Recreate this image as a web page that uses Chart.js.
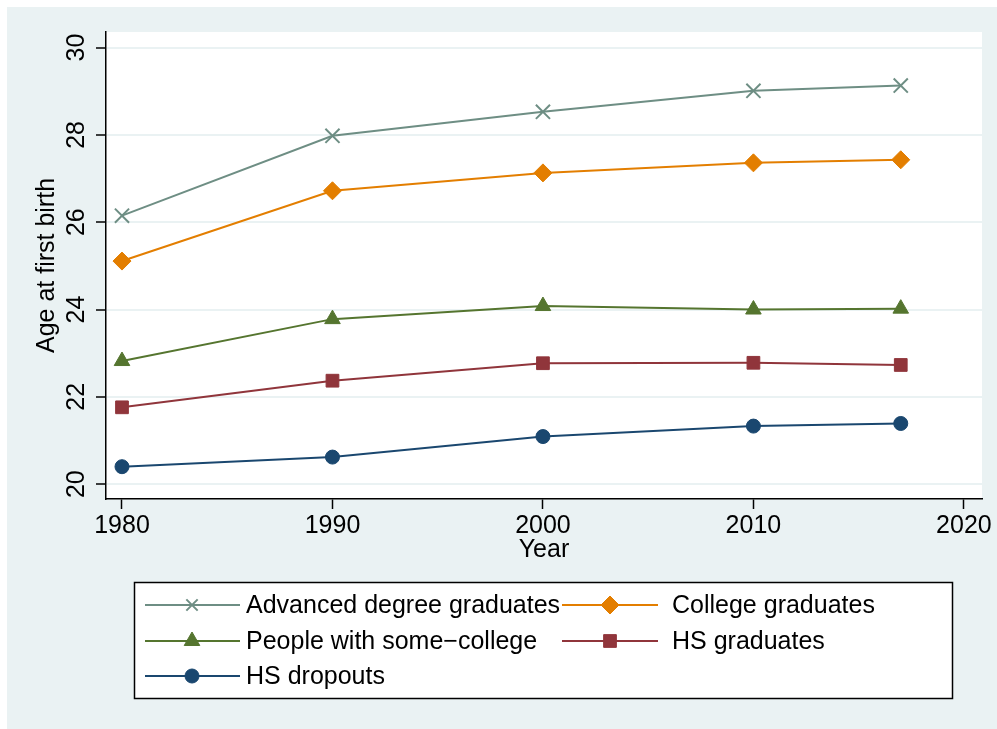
<!DOCTYPE html>
<html>
<head>
<meta charset="utf-8">
<title>Age at first birth by education</title>
<script src="https://cdn.jsdelivr.net/npm/chart.js@4/dist/chart.umd.min.js"></script>
<style>
    html, body { margin: 0; padding: 0; background: #ffffff; }
    #wrap { width: 997px; height: 729px; }
</style>
</head>
<body>
<div id="wrap"><canvas id="ageChart" width="997" height="729"></canvas></div>
<script>
// Census years and mean age at first birth per education group
const years = [1980, 1990, 2000, 2010, 2017];
const advancedDegree = [26.15, 27.98, 28.53, 29.01, 29.13];
const collegeGrads   = [25.11, 26.72, 27.13, 27.36, 27.43];
const someCollege    = [22.82, 23.78, 24.08, 24.00, 24.02];
const hsGrads        = [21.76, 22.37, 22.77, 22.78, 22.73];
const hsDropouts     = [20.40, 20.62, 21.09, 21.33, 21.39];

const seriesNames = [
    'Advanced degree graduates',
    'College graduates',
    'People with some\u2212college',
    'HS graduates',
    'HS dropouts'
];

const xTicks = [1980, 1990, 2000, 2010, 2020];
const yTicks = [20, 22, 24, 26, 28, 30];

// Stata s2color palette
const seriesColors = ['#6E8E84', '#E37E00', '#55752F', '#90353B', '#1A476F'];
const seriesMarkers = ['crossRot', 'rectRot', 'triangle', 'rect', 'circle'];
const markerSizes = [10, 9, 9, 9, 7];

const FONT = '"Liberation Sans", Arial, Helvetica, sans-serif';
const FONT_SIZE = 25;
const PANEL = '#EAF2F3';

Chart.defaults.font.family = FONT;
Chart.defaults.font.size = FONT_SIZE;
Chart.defaults.color = '#000';

const seriesValues = [advancedDegree, collegeGrads, someCollege, hsGrads, hsDropouts];

const datasets = seriesValues.map((vals, i) => ({
    label: seriesNames[i],
    data: vals.map((v, j) => ({ x: years[j], y: v })),
    borderColor: seriesColors[i],
    backgroundColor: seriesColors[i],
    borderWidth: 2,
    pointStyle: seriesMarkers[i],
    pointRadius: markerSizes[i],
    pointBorderWidth: seriesMarkers[i] === 'crossRot' ? 2 : 1,
    pointBorderColor: seriesColors[i],
    pointBackgroundColor: seriesColors[i],
    tension: 0
}));

// Graph region: white margin, light bluish panel, white plot region
const backgroundPlugin = {
    id: 'stataBackground',
    beforeDraw(chart) {
        const ctx = chart.ctx;
        const a = chart.chartArea;
        ctx.save();
        ctx.fillStyle = '#ffffff';
        ctx.fillRect(0, 0, chart.width, chart.height);
        ctx.fillStyle = PANEL;
        ctx.fillRect(7, 7, chart.width - 7, chart.height - 7);
        ctx.fillStyle = '#ffffff';
        ctx.fillRect(a.left, a.top, a.right - a.left, a.bottom - a.top);
        ctx.restore();
    }
};

// Vertical y tick labels, as Stata prints them
const yLabelPlugin = {
    id: 'verticalYLabels',
    afterDraw(chart) {
        const ctx = chart.ctx;
        const scale = chart.scales.y;
        ctx.save();
        ctx.fillStyle = '#000';
        ctx.font = FONT_SIZE + 'px ' + FONT;
        ctx.textAlign = 'center';
        ctx.textBaseline = 'middle';
        yTicks.forEach(v => {
            const py = scale.getPixelForValue(v);
            ctx.save();
            ctx.translate(77, py);
            ctx.rotate(-Math.PI / 2);
            ctx.fillText(String(v), 0, 0);
            ctx.restore();
        });
        ctx.restore();
    }
};

// Boxed two-column legend under the plot
const legendPlugin = {
    id: 'boxLegend',
    afterDraw(chart) {
        const ctx = chart.ctx;
        const box = { x: 134, y: 582, w: 818, h: 116 };
        const cols = [
            { x0: 145, x1: 240, mark: 192, text: 246 },
            { x0: 562, x1: 658, mark: 610, text: 672 }
        ];
        const rows = [605, 641, 676];

        ctx.save();
        ctx.fillStyle = '#ffffff';
        ctx.fillRect(box.x, box.y, box.w, box.h);
        ctx.strokeStyle = '#000';
        ctx.lineWidth = 1.5;
        ctx.strokeRect(box.x + 0.5, box.y + 0.5, box.w, box.h);

        chart.data.datasets.forEach((ds, i) => {
            const c = cols[i % 2];
            const y = rows[Math.floor(i / 2)];
            ctx.strokeStyle = ds.borderColor;
            ctx.lineWidth = 2;
            ctx.beginPath();
            ctx.moveTo(c.x0, y);
            ctx.lineTo(c.x1, y);
            ctx.stroke();

            ctx.fillStyle = ds.pointBackgroundColor;
            ctx.strokeStyle = ds.pointBorderColor;
            ctx.lineWidth = ds.pointBorderWidth;
            Chart.helpers.drawPoint(ctx, {
                pointStyle: ds.pointStyle,
                radius: ds.pointStyle === 'crossRot' ? 8 : ds.pointRadius,
                rotation: 0,
                borderWidth: ds.pointBorderWidth
            }, c.mark, y);

            ctx.fillStyle = '#000';
            ctx.font = FONT_SIZE + 'px ' + FONT;
            ctx.textAlign = 'left';
            ctx.textBaseline = 'middle';
            ctx.fillText(ds.label, c.text, y + 1);
        });
        ctx.restore();
    }
};

new Chart(document.getElementById('ageChart').getContext('2d'), {
    type: 'line',
    data: { datasets: datasets },
    options: {
        responsive: false,
        animation: false,
        devicePixelRatio: 1,
        layout: {
            padding: { left: 0, top: 32, right: 15, bottom: 164 }
        },
        plugins: {
            legend: { display: false },
            tooltip: { enabled: false }
        },
        scales: {
            x: {
                type: 'linear',
                min: 1979.24,
                max: 2020.86,
                afterBuildTicks: scale => {
                    scale.ticks = xTicks.map(v => ({ value: v }));
                },
                afterFit: scale => { scale.height = 66; },
                grid: {
                    drawOnChartArea: false,
                    tickLength: 10,
                    tickColor: '#000',
                    tickWidth: 1.5
                },
                border: { color: '#000', width: 1.5 },
                ticks: {
                    color: '#000',
                    padding: 2,
                    maxRotation: 0,
                    callback: v => String(v)
                },
                title: {
                    display: true,
                    text: 'Year',
                    color: '#000',
                    font: { size: FONT_SIZE },
                    padding: { top: 0, bottom: 0 }
                }
            },
            y: {
                type: 'linear',
                min: 19.66,
                max: 30.357,
                afterBuildTicks: scale => {
                    scale.ticks = yTicks.map(v => ({ value: v }));
                },
                afterFit: scale => { scale.width = 106; },
                grid: {
                    color: PANEL,
                    lineWidth: 2,
                    tickLength: 10,
                    tickColor: '#000',
                    tickWidth: 1.5
                },
                border: { color: '#000', width: 1.5 },
                ticks: {
                    color: 'rgba(0,0,0,0)'
                },
                title: {
                    display: true,
                    text: 'Age at first birth',
                    color: '#000',
                    font: { size: FONT_SIZE },
                    padding: { top: 32, bottom: 0 }
                }
            }
        }
    },
    plugins: [backgroundPlugin, yLabelPlugin, legendPlugin]
});
</script>
</body>
</html>
